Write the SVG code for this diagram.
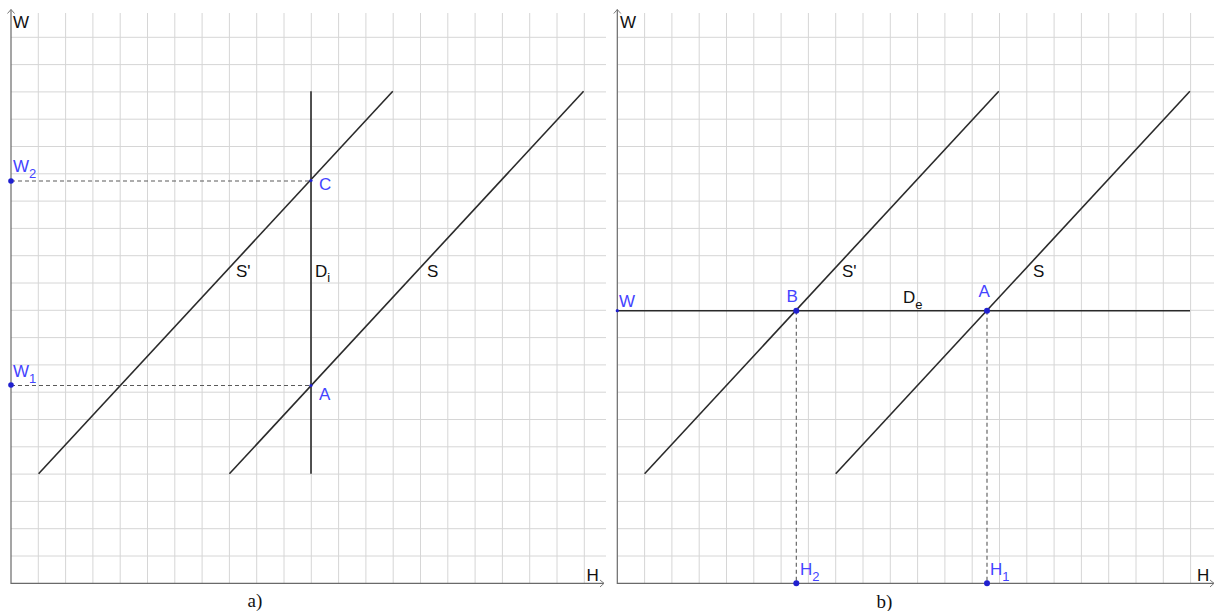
<svg xmlns="http://www.w3.org/2000/svg" width="1217" height="611" viewBox="0 0 1217 611">
<style>
.grid{stroke:#d6d6d6;stroke-width:1;fill:none}
.axis{stroke:#6a6a6a;stroke-width:1.2;fill:none}
.arr{stroke:#7a7a7a;stroke-width:1;fill:none}
.ln{stroke:#2a2a2a;stroke-width:1.6;fill:none}
.dash{stroke:#5a5a5a;stroke-width:1.1;stroke-dasharray:4,3;fill:none}
.pt{fill:#2020d0}
.lb{font-family:"Liberation Sans",Arial,sans-serif;font-size:17px;fill:#111}
.bl{font-family:"Liberation Sans",Arial,sans-serif;font-size:17px;fill:#4444ff}
.sub{font-size:13px}
.cap{font-family:"Liberation Serif","Times New Roman",serif;font-size:19px;fill:#111}
</style>
<rect width="1217" height="611" fill="#fff"/>
<g id="grid-a" class="grid">
<path d="M38.3 13V583M65.6 13V583M92.9 13V583M120.2 13V583M147.5 13V583M174.8 13V583M202.1 13V583M229.4 13V583M256.7 13V583M284 13V583M311.3 13V583M338.6 13V583M365.9 13V583M393.2 13V583M420.5 13V583M447.8 13V583M475.1 13V583M502.4 13V583M529.7 13V583M557 13V583M584.3 13V583"/>
<path d="M11 556H606M11 528.7H606M11 501.4H606M11 474.1H606M11 446.8H606M11 419.5H606M11 392.2H606M11 364.9H606M11 337.6H606M11 310.3H606M11 283H606M11 255.7H606M11 228.4H606M11 201.1H606M11 173.8H606M11 146.5H606M11 119.2H606M11 91.9H606M11 64.6H606M11 37.3H606"/>
</g>
<g id="grid-b" class="grid">
<path d="M644.6 13V583M671.9 13V583M699.2 13V583M726.5 13V583M753.8 13V583M781.1 13V583M808.4 13V583M835.7 13V583M863 13V583M890.3 13V583M917.6 13V583M944.9 13V583M972.2 13V583M999.5 13V583M1026.8 13V583M1054.1 13V583M1081.4 13V583M1108.7 13V583M1136 13V583M1163.3 13V583M1190.6 13V583"/>
<path d="M617.3 556H1214M617.3 528.7H1214M617.3 501.4H1214M617.3 474.1H1214M617.3 446.8H1214M617.3 419.5H1214M617.3 392.2H1214M617.3 364.9H1214M617.3 337.6H1214M617.3 310.3H1214M617.3 283H1214M617.3 255.7H1214M617.3 228.4H1214M617.3 201.1H1214M617.3 173.8H1214M617.3 146.5H1214M617.3 119.2H1214M617.3 91.9H1214M617.3 64.6H1214M617.3 37.3H1214"/>
</g>
<g id="axes-a">
<path class="axis" d="M11 9.5V583.3H604"/>
<path class="arr" d="M7.5 13.5L11 9.5L14.5 13.5M600 580L604 583.3L600 587"/>
<text class="lb" x="13" y="27.5">W</text>
<text class="lb" x="586.5" y="580.5">H</text>
</g>
<g id="axes-b">
<path class="axis" d="M617.3 9.5V583.3H1214"/>
<path class="arr" d="M613.8 13.5L617.3 9.5L620.8 13.5M1210 580L1214 583.3L1210 587"/>
<text class="lb" x="620" y="27.5">W</text>
<text class="lb" x="1197" y="580.5">H</text>
</g>
<g id="connectors">
<path class="ln" d="M38.6 473.8L392.8 91.3"/>
<path class="ln" d="M229.4 473.8L583.6 91.3"/>
<path class="ln" d="M311 91.3V473.8"/>
<path class="dash" d="M11 181H311"/>
<path class="dash" d="M11 385.5H311"/>
<path class="ln" d="M644.6 473.8L998.8 91.3"/>
<path class="ln" d="M835.7 473.8L1189.9 91.3"/>
<path class="ln" d="M617.3 310.7H1190"/>
<path class="dash" d="M796.3 310.7V583.3"/>
<path class="dash" d="M987 310.7V583.3"/>
</g>
<g id="curve-labels">
<text class="lb" x="236" y="277">S'</text>
<text class="lb" x="315" y="277">D<tspan class="sub" dy="5">i</tspan></text>
<text class="lb" x="427" y="277">S</text>
<text class="lb" x="842" y="277">S'</text>
<text class="lb" x="903" y="302.5">D<tspan class="sub" dy="6">e</tspan></text>
<text class="lb" x="1033" y="277">S</text>
</g>
<g id="W2"><circle class="pt" cx="11" cy="181" r="2.8"/><text class="bl" x="13" y="171.5">W<tspan class="sub" dy="6">2</tspan></text></g>
<g id="W1"><circle class="pt" cx="11" cy="385" r="2.8"/><text class="bl" x="13" y="377">W<tspan class="sub" dy="6">1</tspan></text></g>
<g id="C"><circle class="pt" cx="311" cy="180.5" r="1.6"/><text class="bl" x="319" y="189.5">C</text></g>
<g id="A-a"><circle class="pt" cx="311" cy="385.5" r="1.6"/><text class="bl" x="319" y="400">A</text></g>
<g id="W"><circle class="pt" cx="617.3" cy="310.7" r="1.6"/><text class="bl" x="619" y="306.5">W</text></g>
<g id="B"><circle class="pt" cx="796.3" cy="310.7" r="3"/><text class="bl" x="786.5" y="302">B</text></g>
<g id="A-b"><circle class="pt" cx="987" cy="310.7" r="3"/><text class="bl" x="978.5" y="297">A</text></g>
<g id="H2"><circle class="pt" cx="796.3" cy="583.3" r="3"/><text class="bl" x="800" y="575">H<tspan class="sub" dy="6">2</tspan></text></g>
<g id="H1"><circle class="pt" cx="987" cy="583.3" r="3"/><text class="bl" x="990" y="575">H<tspan class="sub" dy="6">1</tspan></text></g>
<text class="cap" x="247.5" y="607">a)</text>
<text class="cap" x="876.5" y="608">b)</text>
</svg>
